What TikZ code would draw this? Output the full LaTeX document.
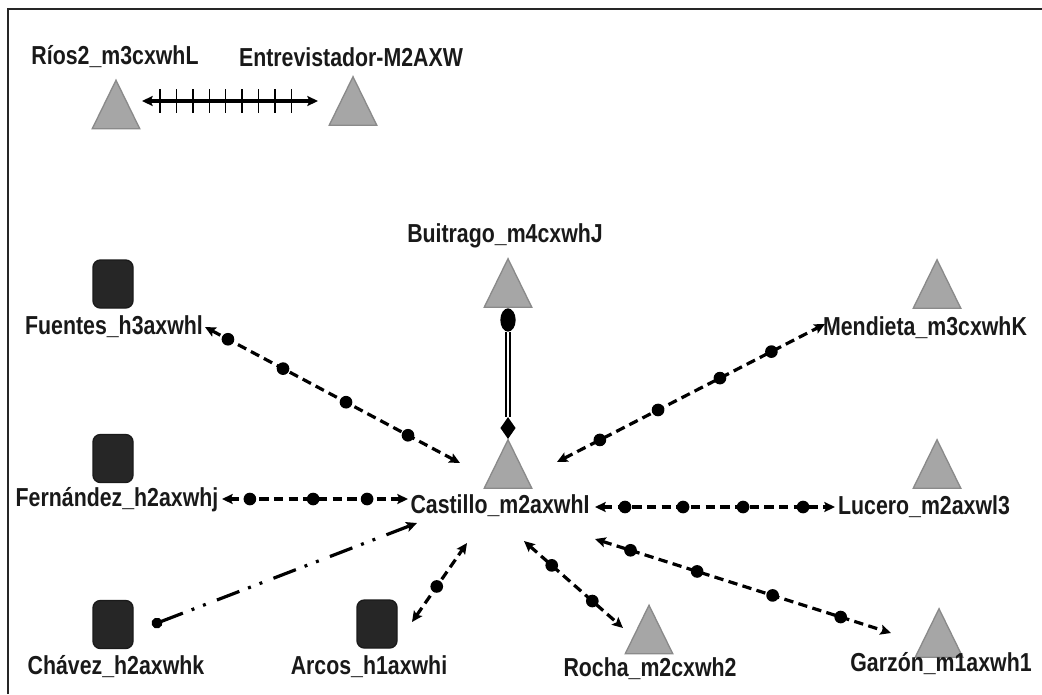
\documentclass[tikz,border=0pt]{standalone}
\usepackage{fontspec}
\setmainfont{Liberation Sans}[FakeStretch=0.82]
\usetikzlibrary{arrows.meta,shapes.geometric,decorations.markings}

\definecolor{trifill}{HTML}{A6A6A6}
\definecolor{triedge}{HTML}{8A8A8A}
\definecolor{sqfill}{HTML}{262626}
\definecolor{sqedge}{HTML}{1A1A1A}

% triangle actor: an invisible box node, then the triangle drawn on its anchors
\newcommand\actor[2]{%
  \node[trinode] (#1) at (#2) {};
  \filldraw[tri] (#1.south west) -- (#1.south east) -- (#1.north) -- cycle;}

\begin{document}
\begin{tikzpicture}[x=0.75pt,y=-0.75pt,
  >={Stealth[length=8pt,width=7.5pt,inset=1.5pt]},
  trinode/.style={inner sep=0,minimum width=35.25pt,minimum height=36pt},
  tri/.style={fill=trifill,draw=triedge,line width=1pt,line join=miter},
  sq/.style={rectangle,rounded corners=5.5pt,inner sep=0,minimum width=30pt,
             minimum height=36pt,fill=sqfill,draw=sqedge,line width=1pt},
  lbl/.style={inner sep=0,font=\fontsize{19.5}{22}\selectfont\bfseries,text=black!90},
  tie/.style={line width=2.4pt,dash pattern=on 7pt off 4pt,<->},
  dot/.style={circle,fill=black,inner sep=0,minimum size=9.5pt},
  chain/.style={line width=2.4pt,
     dash pattern=on 18pt off 7pt on 2.2pt off 7pt on 2.2pt off 9pt,
     {Circle[length=8pt]}->},
  tick/.style={-,line width=1.1pt},
  ticked/.style={line width=2.4pt,<->,postaction={decorate},
     decoration={markings,
       mark=at position 0.102 with {\draw[tick] (0,-8.8pt) -- (0,8.8pt);},
       mark=at position 0.195 with {\draw[tick] (0,-8.8pt) -- (0,8.8pt);},
       mark=at position 0.289 with {\draw[tick] (0,-8.8pt) -- (0,8.8pt);},
       mark=at position 0.382 with {\draw[tick] (0,-8.8pt) -- (0,8.8pt);},
       mark=at position 0.475 with {\draw[tick] (0,-8.8pt) -- (0,8.8pt);},
       mark=at position 0.568 with {\draw[tick] (0,-8.8pt) -- (0,8.8pt);},
       mark=at position 0.661 with {\draw[tick] (0,-8.8pt) -- (0,8.8pt);},
       mark=at position 0.755 with {\draw[tick] (0,-8.8pt) -- (0,8.8pt);},
       mark=at position 0.848 with {\draw[tick] (0,-8.8pt) -- (0,8.8pt);}}},
  twin/.style={line width=1.5pt,double=white,double distance=1.3pt}
]
\useasboundingbox (0,0) rectangle (1042,694);

% frame
\draw[line width=1.2pt,black!85] (8,694) -- (8,9) -- (1042,9);

% actors
\actor{rios}{116,104.5}
\actor{entr}{353,101}
\actor{buit}{508,283}
\actor{cast}{508,464}
\actor{mend}{937,284}
\actor{luce}{937,464}
\actor{roch}{649,629.5}
\actor{garz}{939,633}

\node[sq] (fuen) at (113,284) {};
\node[sq] (fern) at (113,458.5) {};
\node[sq] (chav) at (113,624.5) {};
\node[sq] (arco) at (377,624) {};

% names
\node[lbl] (rios-l) at (115,57)  {Ríos2\_m3cxwhL};
\node[lbl] (entr-l) at (351,57)  {Entrevistador-M2AXW};
\node[lbl] (buit-l) at (505,236) {Buitrago\_m4cxwhJ};
\node[lbl] (cast-l) at (500,506) {Castillo\_m2axwhI};
\node[lbl] (mend-l) at (925,328) {Mendieta\_m3cxwhK};
\node[lbl] (luce-l) at (924,507) {Lucero\_m2axwl3};
\node[lbl] (fuen-l) at (114,327) {Fuentes\_h3axwhl};
\node[lbl] (fern-l) at (117,500) {Fernández\_h2axwhj};
\node[lbl] (chav-l) at (116,667) {Chávez\_h2axwhk};
\node[lbl] (arco-l) at (369,667) {Arcos\_h1axwhi};
\node[lbl] (roch-l) at (650,669) {Rocha\_m2cxwh2};
\node[lbl] (garz-l) at (941,664) {Garzón\_m1axwh1};

% connector end points
\coordinate (ri-a) at (142,101);  \coordinate (en-a) at (318,101);
\coordinate (fu-a) at (205,327);  \coordinate (fu-b) at (460,463);
\coordinate (fe-a) at (222,499);  \coordinate (fe-b) at (408,499);
\coordinate (ch-a) at (152,625);  \coordinate (ch-b) at (417,523);
\coordinate (ar-a) at (412,622);  \coordinate (ar-b) at (467,543);
\coordinate (ro-a) at (524,541);  \coordinate (ro-b) at (623,628);
\coordinate (ga-a) at (595,539);  \coordinate (ga-b) at (891,633);
\coordinate (lu-a) at (595,507);  \coordinate (lu-b) at (835,507);
\coordinate (me-a) at (557,462);  \coordinate (me-b) at (825,324);

% ties
\draw[ticked] (ri-a) -- (en-a);

\node[ellipse,fill=black,inner sep=0,minimum width=11.5pt,minimum height=17.5pt] (bu-e) at (508,320) {};
\node[diamond,fill=black,inner sep=0,minimum width=11.5pt,minimum height=16.5pt] (ca-d) at (508,428) {};
\draw[twin] (bu-e) -- (ca-d);

\draw[tie] (fu-a) -- node[dot,pos=.09]{} node[dot,pos=.306]{} node[dot,pos=.553]{} node[dot,pos=.796]{} (fu-b);
\draw[tie] (fe-a) -- node[dot,pos=.15]{} node[dot,pos=.49]{} node[dot,pos=.78]{} (fe-b);
\draw[chain] (ch-a) -- (ch-b);
\draw[tie] (ar-a) -- node[dot,pos=.45]{} (ar-b);
\draw[tie] (ro-a) -- node[dot,pos=.28]{} node[dot,pos=.69]{} (ro-b);
\draw[tie] (ga-a) -- node[dot,pos=.12]{} node[dot,pos=.345]{} node[dot,pos=.6]{} node[dot,pos=.83]{} (ga-b);
\draw[tie] (lu-a) -- node[dot,pos=.125]{} node[dot,pos=.367]{} node[dot,pos=.617]{} node[dot,pos=.867]{} (lu-b);
\draw[tie] (me-a) -- node[dot,pos=.16]{} node[dot,pos=.377]{} node[dot,pos=.608]{} node[dot,pos=.8]{} (me-b);
\end{tikzpicture}
\end{document}
